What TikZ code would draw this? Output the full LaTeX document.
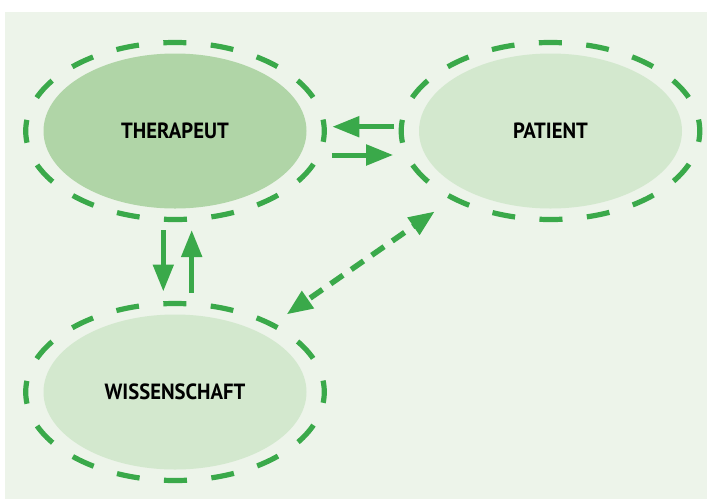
\documentclass[tikz,border=0pt]{standalone}
\usepackage{fontspec}
\newfontfamily\labelfont[FakeStretch=0.94]{PT Sans}
\usetikzlibrary{shapes.geometric,arrows.meta}
\definecolor{bggreen}{HTML}{EDF4EA}
\definecolor{dashgreen}{HTML}{3AA94A}
\definecolor{darkfill}{HTML}{B0D5A7}
\definecolor{lightfill}{HTML}{D3E8CE}
\tikzset{
  blob/.style={ellipse,minimum width=263pt,minimum height=155pt,inner sep=0pt,outer sep=0pt,
    font=\labelfont\bfseries\fontsize{22}{26}\selectfont},
  ring/.style={ellipse,draw=dashgreen,line width=5.2pt,minimum width=298.6pt,minimum height=177pt,
    inner sep=0pt,outer sep=0pt,dash pattern=on 23pt off 24.5pt,dash phase=11.5pt},
  arr/.style={dashgreen,line width=5pt,-{Triangle[length=27pt,width=20pt]}},
  dasharr/.style={dashgreen,line width=5.5pt,dash pattern=on 15pt off 10pt,dash phase=-4pt,
    {Triangle[length=26pt,width=20pt]}-{Triangle[length=26pt,width=20pt]}}
}
\begin{document}
\begin{tikzpicture}[x=1pt,y=-1pt]
  \useasboundingbox (0,0) rectangle (707,499);
  \fill[bggreen] (5,12) rectangle (707,499);
  % ellipses
  \node[blob,fill=darkfill] (ther) at (175,131) {THERAPEUT};
  \node[blob,fill=lightfill] (pat) at (550.5,131) {PATIENT};
  \node[blob,fill=lightfill] (wis) at (175,392) {WISSENSCHAFT};
  \foreach \n in {ther,pat,wis}
    \node[ring] (\n ring) at (\n) {};
  % arrows
  \draw[arr,shorten <=7pt,shorten >=8pt] ([yshift=4.3pt]patring.west) -- ([yshift=4.3pt]therring.east);
  \draw[arr,shorten <=7.5pt,shorten >=8pt] ([yshift=-24pt]therring.east) -- ([yshift=-24pt]patring.west);
  \draw[arr,shorten <=10.5pt,shorten >=12pt] ([xshift=-11.7pt]therring.south) -- ([xshift=-11.7pt]wisring.north);
  \draw[arr,shorten <=11pt,shorten >=10.5pt] ([xshift=16.7pt]wisring.north) -- ([xshift=16.7pt]therring.south);
  \draw[dasharr,shorten <=18pt,shorten >=23pt] (wisring) -- (patring);
\end{tikzpicture}
\end{document}
